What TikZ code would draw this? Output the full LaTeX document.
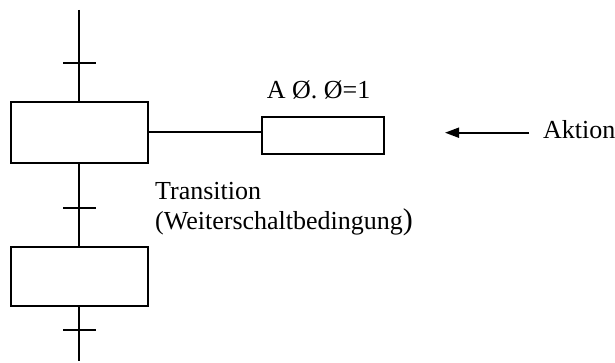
\documentclass[tikz,border=0pt]{standalone}
\usepackage{fontspec}
\setmainfont{Liberation Serif}
\usetikzlibrary{arrows.meta}

\tikzset{
  stepbox/.style={draw, line width=2pt, rectangle, inner sep=0pt,
    minimum width=136.7pt, minimum height=60pt},
  actionbox/.style={draw, line width=2pt, rectangle, inner sep=0pt,
    minimum width=121.7pt, minimum height=37pt},
  flow/.style={line width=2pt},
  tickmark/.style={line width=2.4pt},
  label/.style={anchor=base west, inner sep=0pt,
    font=\fontsize{26}{30}\selectfont},
  pointer/.style={line width=1.8pt, -{Triangle[length=14pt,width=10pt]}}
}

\begin{document}
\begin{tikzpicture}[x=1pt, y=-1pt]
  \useasboundingbox (0,0) rectangle (615,363);

  % steps of the sequence chain
  \node[stepbox, minimum height=61pt] (s1) at (79.3,132.2) {};
  \node[stepbox, minimum height=59pt] (s2) at (79.3,276.2) {};

  % action attached to the first step
  \node[actionbox] (act) at (323.2,135.8) {};

  % open ends of the chain
  \coordinate (top) at (79.3,10);
  \coordinate (bot) at (79.3,360.7);

  % transitions
  \coordinate (t1) at (79.3,63.3);
  \coordinate (t2) at (79.3,208.3);
  \coordinate (t3) at (79.3,330);

  % vertical flow lines
  \draw[flow] (top) -- (s1.north);
  \draw[flow] (s1.south) -- (s2.north);
  \draw[flow] (s2.south) -- (bot);

  % step to action link
  \coordinate (s1e) at (147.7,131.7);
  \draw[flow, line width=1.8pt] (s1e) -- (s1e -| act.west);

  % transition bars
  \foreach \t in {t1,t2,t3}
    \draw[tickmark] ([xshift=-16.2pt]\t) -- ([xshift=16.2pt]\t);

  % texts
  \node[label] (acttxt) at (266.7,98.3) {A Ø. Ø=1};
  \node[label] (tr1) at (155,199.3) {Transition};
  \node[label] (tr2) at (155,229.5) {(Weiterschaltbedingung{\fontsize{30}{30}\selectfont)}};
  \node[label] (akt) at (543,138.3) {Aktion};

  % pointer to the action
  \coordinate (ptail) at (529,132.7);
  \coordinate (phead) at (445,132.7);
  \draw[pointer] (ptail) -- (phead);
\end{tikzpicture}
\end{document}
